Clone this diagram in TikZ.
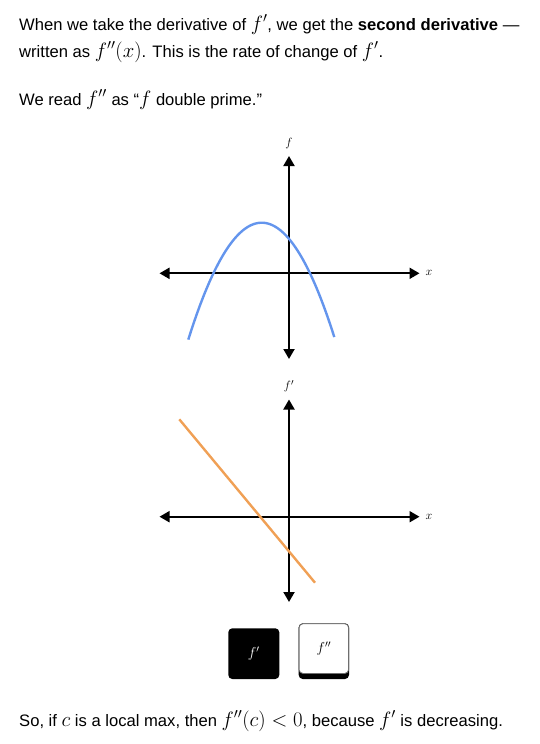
\documentclass[tikz,border=0pt]{standalone}
\usepackage{fontspec}
\setmainfont{Liberation Sans}
\usetikzlibrary{arrows.meta}
\definecolor{curveblue}{RGB}{100,149,237}
\definecolor{lineorange}{RGB}{240,160,85}
\definecolor{btnborder}{RGB}{110,110,110}
\newcommand{\mm}[1]{{\fontsize{19.5}{20}\selectfont$#1$}}
\begin{document}
\begin{tikzpicture}[x=1pt,y=-1pt,
  axis/.style={line width=2pt,{Triangle[length=10pt,width=11pt]}-{Triangle[length=10pt,width=11pt]}},
  txt/.style={anchor=base west,inner sep=0pt,font=\fontsize{16.6}{18}\selectfont},
  lbl/.style={inner sep=0pt,font=\fontsize{13}{14}\selectfont},
  btnlbl/.style={inner sep=0pt,font=\fontsize{14}{15}\selectfont}]
\useasboundingbox (0,0) rectangle (540,744);
% text
\node[txt] (t1) at (19,30) {When we take the derivative of \mm{f'}, we get the \textbf{second derivative} ---};
\node[txt] (t2) at (19,57) {written as \mm{f''(x)}. This is the rate of change of \mm{f'}.};
\node[txt] (t3) at (19,105) {We read \mm{f''} as ``\mm{f} double prime.''};
\node[txt] (t4) at (19,726) {So, if \mm{c} is a local max, then \mm{f''(c)<0}, because \mm{f'} is decreasing.};
% top graph
\coordinate (a1l) at (159.5,273.3);
\coordinate (a1r) at (419.5,273.3);
\coordinate (a1t) at (289,156);
\coordinate (a1b) at (289,359);
\draw[axis] (a1l) -- (a1r);
\draw[axis] (a1b) -- (a1t);
\node[lbl] (lf) at (289,143) {$f$};
\node[lbl] (lx1) at (429,273.3) {$x$};
\draw[curveblue,line width=2.4pt] plot[domain=188.3:334.3,samples=80] (\x,{222.7+0.0217*(\x-261.7)^2});
% bottom graph
\coordinate (a2l) at (159.5,516.7);
\coordinate (a2r) at (419.5,516.7);
\coordinate (a2t) at (289,399.5);
\coordinate (a2b) at (289,602);
\draw[axis] (a2l) -- (a2r);
\draw[axis] (a2b) -- (a2t);
\node[lbl] (lfp) at (289,386) {$f'$};
\node[lbl] (lx2) at (429,516.7) {$x$};
\coordinate (o1) at (179.3,419.3);
\coordinate (o2) at (315,582.7);
\draw[lineorange,line width=2.4pt] (o1) -- (o2);
% buttons
\fill[black,rounded corners=4pt] (228.3,628.3) rectangle (279.3,679);
\node[btnlbl,text=white] (b1) at (253.8,654) {$f'$};
\fill[black,rounded corners=4pt] (298.7,623.3) rectangle (349,679);
\draw[btnborder,fill=white,line width=0.8pt,rounded corners=4pt] (299.1,623.7) rectangle (348.6,673.5);
\node[btnlbl] (b2) at (323.8,648.5) {$f''$};
\end{tikzpicture}
\end{document}
